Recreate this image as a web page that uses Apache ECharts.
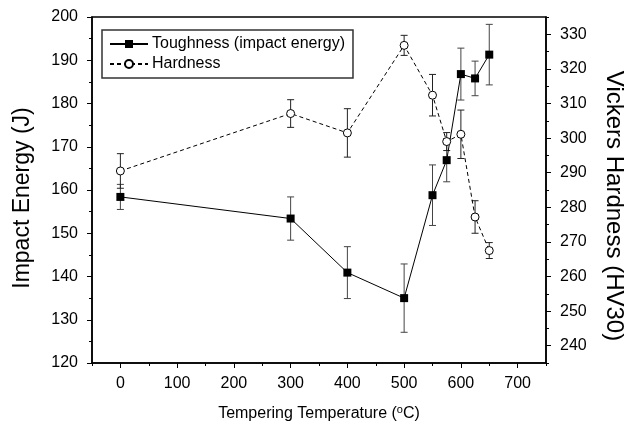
<!DOCTYPE html>
<html>
<head>
<meta charset="utf-8">
<script src="https://cdn.jsdelivr.net/npm/echarts@6/dist/echarts.min.js"></script>
<style>
  html, body { margin: 0; padding: 0; background: #fff; }
  #chart { width: 634px; height: 429px; }
</style>
</head>
<body>
<div id="chart"></div>
<script>
// Tempering temperature (°C)
const temps = [0, 300, 400, 500, 550, 575, 600, 625, 650];
// Impact energy (J) and its standard deviation
const toughness = [158.4, 153.4, 140.9, 135.0, 158.8, 166.9, 186.8, 185.8, 191.3];
const toughnessErr = [2.9, 5.0, 6.0, 7.9, 7.0, 5.0, 6.0, 4.0, 7.0];
// Vickers hardness (HV30) and its standard deviation
const hardness = [290.5, 307.1, 301.5, 326.8, 312.4, 299.0, 301.1, 277.2, 267.5];
const hardnessErr = [5.0, 4.0, 7.0, 2.9, 6.0, 2.6, 7.0, 4.7, 2.3];

// Axis ticks
const xMajor = [0, 100, 200, 300, 400, 500, 600, 700];
const xMinor = [-50, 50, 150, 250, 350, 450, 550, 650, 750];
const hvMajor = [240, 250, 260, 270, 280, 290, 300, 310, 320, 330];
const hvMinor = [235, 245, 255, 265, 275, 285, 295, 305, 315, 325, 335];

const FONT = 'Liberation Sans, Arial, sans-serif';

function errorBars(vals, errs, yAxisIndex, color) {
  return {
    type: 'custom',
    yAxisIndex: yAxisIndex,
    silent: true,
    z: 1,
    data: temps.map((t, i) => [t, vals[i] - errs[i], vals[i] + errs[i]]),
    encode: { x: 0, y: [1, 2] },
    renderItem: function (params, api) {
      const t = api.value(0);
      const lo = api.coord([t, api.value(1)]);
      const hi = api.coord([t, api.value(2)]);
      const w = 3.5;
      const style = { stroke: color, lineWidth: 1 };
      return {
        type: 'group',
        children: [
          { type: 'line', shape: { x1: lo[0], y1: lo[1], x2: hi[0], y2: hi[1] }, style: style },
          { type: 'line', shape: { x1: lo[0] - w, y1: lo[1], x2: lo[0] + w, y2: lo[1] }, style: style },
          { type: 'line', shape: { x1: hi[0] - w, y1: hi[1], x2: hi[0] + w, y2: hi[1] }, style: style }
        ]
      };
    }
  };
}

const axisLine = { show: true, onZero: false, lineStyle: { color: '#000', width: 1.5 } };
const noLine = { show: false, onZero: false };
const labelStyle = { color: '#000', fontSize: 16, fontFamily: FONT };

const chart = echarts.init(document.getElementById('chart'), null, { renderer: 'canvas' });
chart.setOption({
  animation: false,
  backgroundColor: '#fff',
  textStyle: { fontFamily: FONT },
  grid: {
    left: 92, right: 79, top: 17, bottom: 66,
    show: true, borderColor: '#000', borderWidth: 1.5, backgroundColor: 'transparent'
  },
  legend: {
    orient: 'vertical',
    left: 102, top: 30,
    padding: [6, 8, 6, 7],
    itemGap: 4,
    itemWidth: 38,
    itemHeight: 10,
    borderColor: '#333',
    borderWidth: 1.5,
    textStyle: { color: '#000', fontSize: 16, fontFamily: FONT, padding: [0, 0, 0, -1] },
    data: ['Toughness (impact energy)', 'Hardness']
  },
  xAxis: [
    {
      type: 'value', min: -50, max: 750, position: 'bottom',
      axisLine: axisLine,
      axisTick: { show: true, length: 5, customValues: xMajor, lineStyle: { color: '#000', width: 1 } },
      axisLabel: Object.assign({ customValues: xMajor, margin: 13 }, labelStyle),
      splitLine: { show: false },
      name: 'Tempering Temperature ({sup|o}C)',
      nameLocation: 'middle',
      nameGap: 41,
      nameTextStyle: {
        color: '#000', fontSize: 16, fontFamily: FONT,
        rich: { sup: { fontSize: 11, fontFamily: FONT, color: '#000', verticalAlign: 'top', padding: [0, 0, 9, 0] } }
      }
    },
    {
      type: 'value', min: -50, max: 750, position: 'bottom',
      axisLine: noLine,
      axisTick: { show: true, length: 3, customValues: xMinor, lineStyle: { color: '#000', width: 1 } },
      axisLabel: { show: false },
      splitLine: { show: false }
    }
  ],
  yAxis: [
    {
      type: 'value', min: 120, max: 200, interval: 10, position: 'left',
      axisLine: axisLine,
      axisTick: { show: true, length: 5, lineStyle: { color: '#000', width: 1 } },
      minorTick: { show: true, splitNumber: 2, length: 3, lineStyle: { color: '#000', width: 1 } },
      axisLabel: Object.assign({ margin: 14 }, labelStyle),
      splitLine: { show: false },
      name: 'Impact Energy (J)',
      nameLocation: 'middle',
      nameRotate: 90,
      nameGap: 58,
      nameTextStyle: { color: '#000', fontSize: 23, fontFamily: FONT, padding: [0, 16, 0, 0] }
    },
    {
      type: 'value', min: 235, max: 335, position: 'right',
      axisLine: axisLine,
      axisTick: { show: true, length: 5, customValues: hvMajor, lineStyle: { color: '#000', width: 1 } },
      axisLabel: Object.assign({ customValues: hvMajor, margin: 14 }, labelStyle),
      splitLine: { show: false },
      name: 'Vickers Hardness (HV30)',
      nameLocation: 'middle',
      nameRotate: -90,
      nameGap: 56,
      nameTextStyle: { color: '#000', fontSize: 24, fontFamily: FONT, padding: [0, 0, 0, 32] }
    },
    {
      type: 'value', min: 235, max: 335, position: 'right',
      axisLine: noLine,
      axisTick: { show: true, length: 3, customValues: hvMinor, lineStyle: { color: '#000', width: 1 } },
      axisLabel: { show: false },
      splitLine: { show: false }
    }
  ],
  series: [
    errorBars(toughness, toughnessErr, 0, '#444'),
    errorBars(hardness, hardnessErr, 1, '#222'),
    {
      name: 'Toughness (impact energy)',
      type: 'line',
      yAxisIndex: 0,
      z: 3,
      data: temps.map((t, i) => [t, toughness[i]]),
      symbol: 'rect',
      symbolSize: 8,
      itemStyle: { color: '#000', borderColor: '#000', borderWidth: 0 },
      lineStyle: { color: '#000', width: 1, type: 'solid' }
    },
    {
      name: 'Hardness',
      type: 'line',
      yAxisIndex: 1,
      z: 3,
      data: temps.map((t, i) => [t, hardness[i]]),
      symbol: 'circle',
      symbolSize: 8,
      itemStyle: { color: '#fff', borderColor: '#000', borderWidth: 1 },
      lineStyle: { color: '#000', width: 1, type: [4, 3] }
    }
  ]
});
</script>
</body>
</html>
